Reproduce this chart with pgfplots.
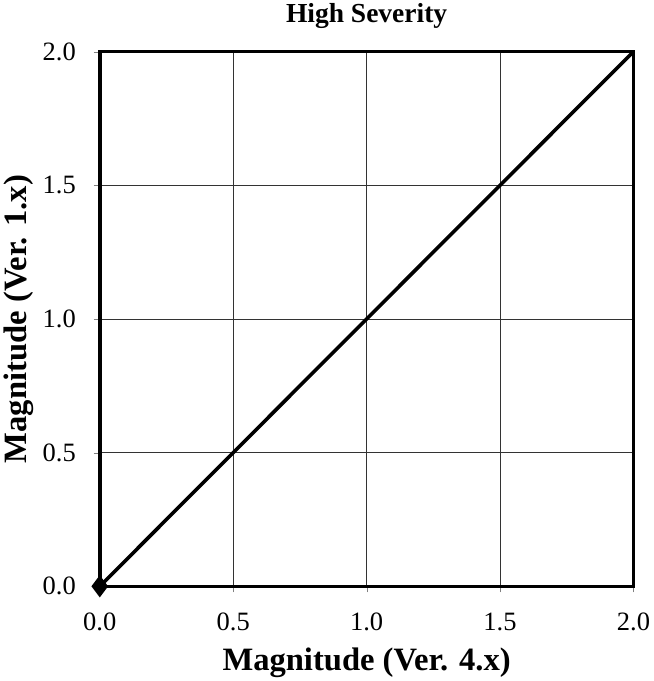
\documentclass[border=0pt]{standalone}
\usepackage{pgfplots}
\pgfplotsset{compat=1.18}
\usepackage{fontspec}
\setmainfont{Liberation Serif}
\begin{document}
\begin{tikzpicture}
\begin{axis}[
    scale only axis,
    width=524pt, height=525pt,
    xmin=0, xmax=2, ymin=0, ymax=2,
    xtick={0,0.5,1,1.5,2}, ytick={0,0.5,1,1.5,2},
    xticklabel style={/pgf/number format/fixed, /pgf/number format/fixed zerofill, /pgf/number format/precision=1, yshift=-17pt},
    yticklabel style={/pgf/number format/fixed, /pgf/number format/fixed zerofill, /pgf/number format/precision=1, xshift=-14pt},
    /pgf/number format/assume math mode=true,
    tick label style={font=\fontsize{26}{28}\selectfont},
    tick align=outside, major tick length=6pt,
    xtick pos=bottom, ytick pos=left,
    grid=major,
    major grid style={black!80, line width=0.8pt},
    axis line style={line width=3.5pt},
    title={High Severity},
    every axis title/.style={at={(axis description cs:0.5,1)}, anchor=center, yshift=35pt,
        font=\fontsize{27}{30}\selectfont\bfseries},
    xlabel={Magnitude (Ver. 4.x)},
    ylabel={Magnitude (Ver. 1.x)},
    every axis x label/.style={at={(axis description cs:0.5,0)}, anchor=center, yshift=-75pt,
        font=\fontsize{32}{34}\selectfont\bfseries},
    every axis y label/.style={at={(axis description cs:0,0.5)}, anchor=center, rotate=90, yshift=80pt,
        font=\fontsize{32}{34}\selectfont\bfseries},
]
\addplot[black, line width=3.5pt, mark=diamond*, mark size=8pt, mark indices={1}] coordinates {(0,0) (2,2)};
\end{axis}
\end{tikzpicture}
\end{document}
